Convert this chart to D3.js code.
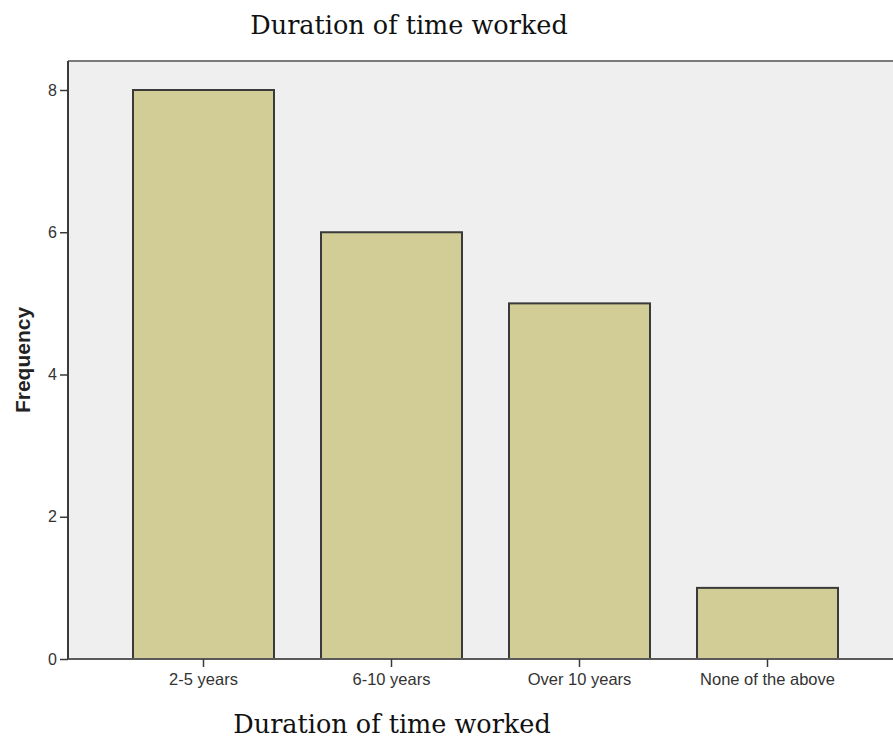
<!DOCTYPE html>
<html>
<head>
<meta charset="utf-8">
<script src="https://cdn.jsdelivr.net/npm/d3@7"></script>
<style>
html,body{margin:0;padding:0;background:#fff;}
svg{display:block;}
</style>
</head>
<body>
<svg id="chart" width="893" height="742"></svg>
<script>
const categories = ["2-5 years", "6-10 years", "Over 10 years", "None of the above"];
const frequencies = [8, 6, 5, 1];
const yTicks = [0, 2, 4, 6, 8];
const titleText = "Duration of time worked";
const xTitleText = "Duration of time worked";
const yTitleText = "Frequency";

const svg = d3.select("#chart");
const plot = {left: 68, top: 61, right: 893, bottom: 659};

const x = d3.scaleBand().domain(categories).range([86, 885]).paddingInner(0.25).paddingOuter(0.25);
const y = d3.scaleLinear().domain([0, 8]).range([plot.bottom, 90]);

// plot background
svg.append("rect")
  .attr("x", plot.left).attr("y", plot.top)
  .attr("width", plot.right - plot.left).attr("height", plot.bottom - plot.top)
  .attr("fill", "#efefef");

// top frame line
svg.append("line")
  .attr("x1", plot.left).attr("x2", plot.right)
  .attr("y1", plot.top).attr("y2", plot.top)
  .attr("stroke", "#7a7a7a").attr("stroke-width", 2);

// bars
svg.append("g").selectAll("rect")
  .data(categories)
  .join("rect")
  .attr("x", d => x(d))
  .attr("y", (d, i) => y(frequencies[i]))
  .attr("width", x.bandwidth())
  .attr("height", (d, i) => y(0) - y(frequencies[i]))
  .attr("fill", "#d2cd96")
  .attr("stroke", "#3a3a3a")
  .attr("stroke-width", 2);

// y axis
const yAxis = svg.append("g")
  .attr("transform", `translate(${plot.left},0)`)
  .call(d3.axisLeft(y).tickValues(yTicks).tickSize(8).tickPadding(3).tickFormat(d3.format("d")));
yAxis.select(".domain").attr("stroke", "#3a3a3a").attr("stroke-width", 2)
  .attr("d", `M0,${plot.top}V${plot.bottom}`);
yAxis.selectAll(".tick line").attr("stroke", "#3a3a3a").attr("stroke-width", 1.5);
yAxis.selectAll(".tick text").attr("font-family", "Liberation Sans, Arial, sans-serif")
  .attr("font-size", 16).attr("fill", "#333");

// x axis
const xAxis = svg.append("g")
  .attr("transform", `translate(0,${plot.bottom})`)
  .call(d3.axisBottom(x).tickSize(8).tickPadding(6));
xAxis.select(".domain").attr("stroke", "#5a5a5a").attr("stroke-width", 2)
  .attr("d", `M${plot.left},0H${plot.right}`);
xAxis.selectAll(".tick line").attr("stroke", "#3a3a3a").attr("stroke-width", 1.5);
xAxis.selectAll(".tick text").attr("font-family", "Liberation Sans, Arial, sans-serif")
  .attr("font-size", 16.5).attr("fill", "#333");

// titles
svg.append("text")
  .attr("x", 409).attr("y", 34)
  .attr("text-anchor", "middle")
  .attr("font-family", "DejaVu Serif, serif")
  .attr("font-size", 25.5)
  .attr("fill", "#111")
  .text(titleText);

svg.append("text")
  .attr("x", 392).attr("y", 733)
  .attr("text-anchor", "middle")
  .attr("font-family", "DejaVu Serif, serif")
  .attr("font-size", 25.5)
  .attr("fill", "#111")
  .text(xTitleText);

svg.append("text")
  .attr("transform", "translate(30,360) rotate(-90)")
  .attr("text-anchor", "middle")
  .attr("font-family", "Liberation Sans, Arial, sans-serif")
  .attr("font-weight", "bold")
  .attr("font-size", 21)
  .attr("fill", "#222")
  .text(yTitleText);
</script>
</body>
</html>
